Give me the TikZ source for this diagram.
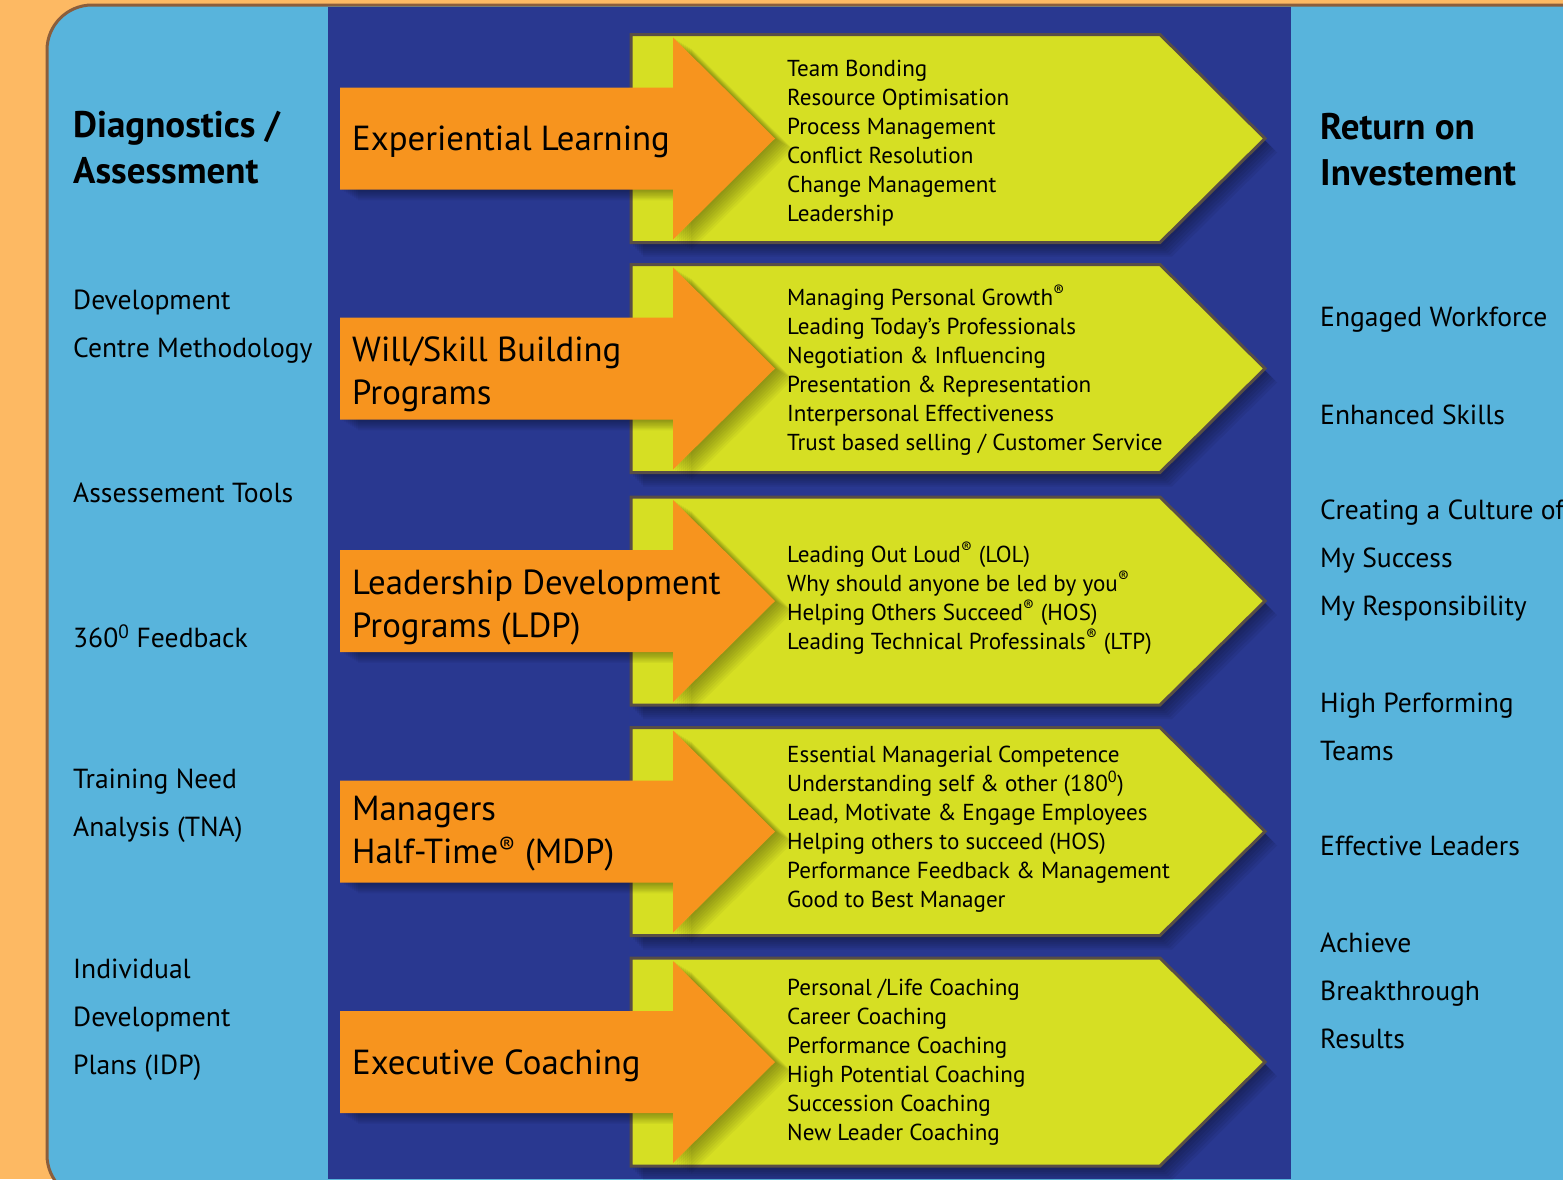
\documentclass[tikz,border=0pt]{standalone}
\usepackage{fontspec}
\setmainfont{PT Sans}
\definecolor{bgorange}{RGB}{253,185,99}
\definecolor{framebrown}{RGB}{139,94,60}
\definecolor{lightblue}{RGB}{88,180,220}
\definecolor{navy}{RGB}{41,56,144}
\definecolor{lime}{RGB}{214,223,35}
\definecolor{arroworange}{RGB}{247,148,30}
\definecolor{pentaborder}{RGB}{88,78,70}
\tikzset{
  listtext/.style={anchor=west, align=left, inner sep=0pt, font=\fontsize{23.1}{29}\selectfont},
  titletext/.style={anchor=west, align=left, inner sep=0pt, font=\fontsize{34.8}{43}\selectfont},
  sidehead/.style={anchor=west, align=left, inner sep=0pt, font=\fontsize{37}{46}\selectfont\bfseries},
  sidetext/.style={anchor=west, align=left, inner sep=0pt, font=\fontsize{27.6}{48}\selectfont},
  pentagon/.style={fill=lime, draw=pentaborder, line width=3pt, line join=miter},
  bigarrow/.style={fill=arroworange},
}
\begin{document}
\begin{tikzpicture}[x=1pt,y=-1pt]
\useasboundingbox (0,0) rectangle (1563,1179);
\clip (0,0) rectangle (1563,1179);
\fill[bgorange] (0,0) rectangle (1563,1179);
\draw[line width=3pt, draw=framebrown, fill=lightblue, rounded corners=45pt] (47,5) rectangle (1700,1200);
\fill[navy] (328,7) rectangle (1291,1179);
% rows
\foreach \c [count=\i] in {138.5,368.5,601,831.5,1062}{
  % pentagon shadow
  \foreach \s in {2,4,...,14}{
    \fill[black, opacity=0.06] ([shift={(\s-2,\s)}]631,\c-104) -- ++(529,0) -- ++(105,104) -- ++(-105,104) -- ++(-529,0) -- cycle;
  }
  \draw[pentagon] (631,\c-104) -- (1160,\c-104) -- (1265,\c) -- (1160,\c+104) -- (631,\c+104) -- cycle;
  % arrow shadow
  \foreach \s in {2,4,...,18}{
    \fill[black, opacity=0.04] ([shift={(\s,\s*0.6)}]340,\c-51) -- ++(333,0) -- ++(0,-50) -- ++(102,101) -- ++(-102,101) -- ++(0,-50) -- ++(-333,0) -- cycle;
  }
  \fill[bigarrow] (340,\c-51) -- (673,\c-51) -- (673,\c-101) -- (775,\c) -- (673,\c+101) -- (673,\c+51) -- (340,\c+51) -- cycle;
}
% orange titles
\node[titletext] (t1) at (352,142) {Experiential Learning};
\node[titletext] (t2) at (352,374) {Will/Skill Building\\Programs};
\node[titletext] (t3) at (352,607) {Leadership Development\\Programs (LDP)};
\node[titletext] (t4) at (352,834) {Managers\\Half-Time\textsuperscript{®} (MDP)};
\node[titletext] (t5) at (352,1066) {Executive Coaching};
% lists
\node[listtext] (l1) at (787,143) {Team Bonding\\Resource Optimisation\\Process Management\\Conflict Resolution\\Change Management\\Leadership};
\node[listtext] (l2) at (787,370) {Managing Personal Growth\textsuperscript{®}\\Leading Today’s Professionals\\Negotiation \& Influencing\\Presentation \& Representation\\Interpersonal Effectiveness\\Trust based selling / Customer Service};
\node[listtext] (l3) at (787,598) {Leading Out Loud\textsuperscript{®} (LOL)\\Why should anyone be led by you\textsuperscript{®}\\Helping Others Succeed\textsuperscript{®} (HOS)\\Leading Technical Professinals\textsuperscript{®} (LTP)};
\node[listtext] (l4) at (787,829) {Essential Managerial Competence\\Understanding self \& other (180\textsuperscript{0})\\Lead, Motivate \& Engage Employees\\Helping others to succeed (HOS)\\Performance Feedback \& Management\\Good to Best Manager};
\node[listtext] (l5) at (787,1062) {Personal /Life Coaching\\Career Coaching\\Performance Coaching\\High Potential Coaching\\Succession Coaching\\New Leader Coaching};
% left column
\node[sidehead] (dh) at (73,148) {Diagnostics /\\Assessment};
\node[sidetext] (d1) at (73,327) {Development\\Centre Methodology};
\node[sidetext] (d2) at (73,493) {Assessement Tools};
\node[sidetext] (d3) at (73,636) {360\textsuperscript{0} Feedback};
\node[sidetext] (d4) at (73,806) {Training Need\\Analysis (TNA)};
\node[sidetext] (d5) at (73,1020) {Individual\\Development\\Plans (IDP)};
% right column
\node[sidehead] (rh) at (1320,150) {Return on\\Investement};
\node[sidetext] (r1) at (1320,320) {Engaged Workforce};
\node[sidetext] (r2) at (1320,415) {Enhanced Skills};
\node[sidetext] (r3) at (1320,560) {Creating a Culture of\\My Success\\My Responsibility};
\node[sidetext] (r4) at (1320,727) {High Performing\\Teams};
\node[sidetext] (r5) at (1320,846) {Effective Leaders};
\node[sidetext] (r6) at (1320,991) {Achieve\\Breakthrough\\Results};
\end{tikzpicture}
\end{document}
